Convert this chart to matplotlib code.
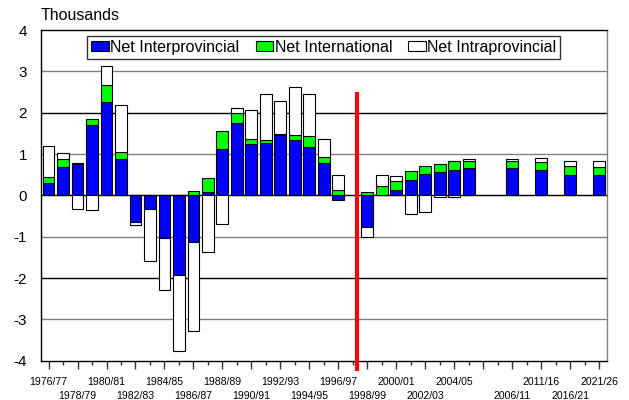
import matplotlib
matplotlib.use("Agg")
import matplotlib.pyplot as plt
import matplotlib.transforms as mtransforms
import numpy as np

plt.rcParams['font.family'] = ['Liberation Sans', 'DejaVu Sans']
plt.rcParams['axes.unicode_minus'] = False

# Периоды (пустые слоты без данных)
periods = ["1976/77", "1977/78", "1978/79", "1979/80", "1980/81", "1981/82",
           "1982/83", "1983/84", "1984/85", "1985/86", "1986/87", "1987/88",
           "1988/89", "1989/90", "1990/91", "1991/92", "1992/93", "1993/94",
           "1994/95", "1995/96", "1996/97", "1997/98", "1998/99", "1999/00",
           "2000/01", "2001/02", "2002/03", "2003/04", "2004/05", "2005/06",
           "", "", "2006/11", "", "2011/16", "", "2016/21", "", "2021/26"]

nan = np.nan
interprov = [0.29, 0.69, 0.75, 1.70, 2.25, 0.87, -0.65, -0.34, -1.02, -1.92,
             -1.14, 0.07, 1.13, 1.75, 1.23, 1.26, 1.45, 1.33, 1.16, 0.79,
             -0.11, nan, -0.76, 0.02, 0.14, 0.38, 0.52, 0.57, 0.62, 0.65,
             nan, nan, 0.65, nan, 0.62, nan, 0.50, nan, 0.49]
international = [0.16, 0.18, 0.03, 0.15, 0.42, 0.19, 0.02, 0.0, 0.0, 0.0,
                 0.11, 0.35, 0.42, 0.24, 0.14, 0.07, 0.03, 0.14, 0.27, 0.14,
                 0.13, nan, 0.07, 0.20, 0.20, 0.20, 0.18, 0.18, 0.20, 0.18,
                 nan, nan, 0.19, nan, 0.19, nan, 0.20, nan, 0.20]
intraprov = [0.74, 0.16, -0.33, -0.36, 0.45, 1.13, -0.07, -1.24, -1.28, -1.85,
             -2.14, -1.36, -0.69, 0.12, 0.69, 1.11, 0.81, 1.16, 1.02, 0.44,
             0.36, nan, -0.25, 0.26, 0.12, -0.46, -0.41, -0.03, -0.05, 0.06,
             nan, nan, 0.04, nan, 0.09, nan, 0.13, nan, 0.15]

series = [
    (interprov, "#0000ff", "Net Interprovincial"),
    (international, "#00ff00", "Net International"),
    (intraprov, "#ffffff", "Net Intraprovincial"),
]

x = np.arange(len(periods))

fig = plt.figure(figsize=(6.29, 4.0), dpi=100)
ax = fig.add_axes([0.0652, 0.0983, 0.8994, 0.8267])

# Стековые столбики: положительные вверх, отрицательные вниз
pos_bottom = np.zeros(len(x))
neg_bottom = np.zeros(len(x))
for vals, color, label in series:
    v = np.array(vals, dtype=float)
    ok = ~np.isnan(v)
    vv = np.nan_to_num(v)
    bottom = np.where(vv >= 0, pos_bottom, neg_bottom)
    ax.bar(x[ok], vv[ok], bottom=bottom[ok], width=0.82, color=color,
           edgecolor="black", linewidth=0.8, label=label, zorder=3)
    pos_bottom += np.where(vv > 0, vv, 0)
    neg_bottom += np.where(vv < 0, vv, 0)

# Сетка
for yv in range(-3, 4):
    ax.axhline(yv, color="black" if yv % 2 == 0 else "#808080",
               linewidth=1.0, zorder=1)

# Красная линия
ax.plot([21.27, 21.27], [2.5, -4.25], color="red", linewidth=3,
        zorder=5, clip_on=False, solid_capstyle="butt")

ax.set_xlim(-0.52, 38.52)
ax.set_ylim(-4, 4)
ax.set_yticks(range(-4, 5))
ax.tick_params(axis="y", length=0, pad=10, labelsize=11)

ax.set_xticks(x[::2])
ax.set_xticks(x[1::2], minor=True)
ax.set_xticklabels([])
ax.tick_params(axis="x", which="major", length=5.5, width=1, color="#333333")
ax.tick_params(axis="x", which="minor", length=3, width=1, color="#333333")

# Подписи в два ряда
trans = mtransforms.blended_transform_factory(ax.transData, ax.transAxes)
k = 0
for i, lab in enumerate(periods):
    if i % 2 == 0 and lab:
        yy = -0.064 if k % 2 == 0 else -0.107
        ax.text(i, yy, lab, transform=trans, ha="center", va="center",
                fontsize=7.6)
        k += 1

for s in ["left", "bottom", "top"]:
    ax.spines[s].set_color("black")
ax.spines["right"].set_color("#808080")
for s in ax.spines.values():
    s.set_linewidth(1.0)

ax.text(0.0, 1.02, "Thousands", transform=ax.transAxes, ha="left",
        va="bottom", fontsize=11.5)

leg = ax.legend(loc="upper center", bbox_to_anchor=(0.5, 0.983), ncol=3,
                fontsize=11.5, frameon=True, fancybox=False, edgecolor="black",
                handlelength=1.1, handleheight=0.6, handletextpad=0.1,
                columnspacing=1.0, borderpad=0.25, borderaxespad=0)
leg.get_frame().set_linewidth(1.0)
leg.set_zorder(6)

fig.savefig("out.png", dpi=100)
